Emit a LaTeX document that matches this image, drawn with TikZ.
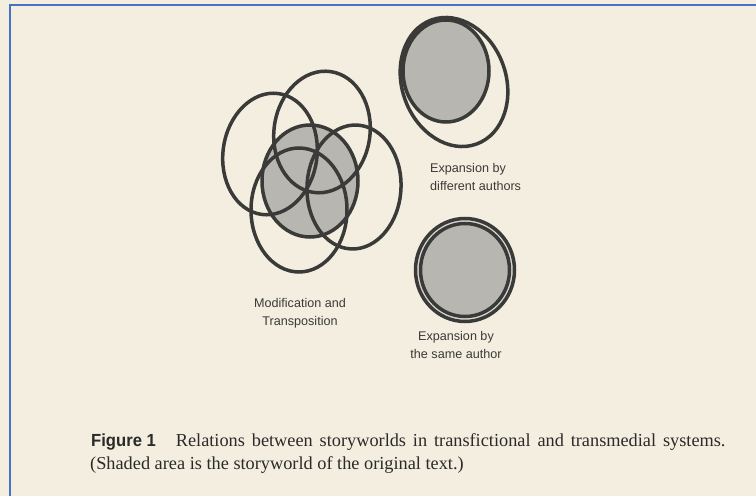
\documentclass[tikz,border=0pt]{standalone}
\usepackage{fontspec}
\setmainfont{Liberation Serif}
\newfontfamily\capwide[WordSpace=1.5]{Liberation Serif}
\newfontfamily\labfont{Liberation Sans}
\newfontfamily\figfont[FakeStretch=0.95]{Liberation Sans}
\definecolor{paper}{HTML}{F3EEE0}
\definecolor{frameblue}{HTML}{4472C4}
\definecolor{ink}{HTML}{3A3A38}
\definecolor{shade}{HTML}{B7B6B1}
\definecolor{gap}{HTML}{D9D7D0}
\definecolor{captink}{HTML}{2A2A28}
\tikzset{
  ring/.style={draw=ink, line width=3.5pt},
  world/.style={draw=ink, line width=3.5pt, fill=shade},
  lab/.style={font=\labfont\fontsize{12.6}{17.5}\selectfont, text=ink, inner sep=0pt},
  capt/.style={font=\fontsize{18.3}{24}\selectfont, text=captink, anchor=base west, inner sep=0pt}
}
\begin{document}
\begin{tikzpicture}[x=1pt,y=1pt]
\useasboundingbox (0,0) rectangle (756,496);
\fill[paper] (0,0) rectangle (756,496);
\draw[frameblue, line width=2.6pt] (10,0) -- (10,491) -- (756,491);

% Modification and Transposition
\draw[world] (310,315) ellipse [x radius=48, y radius=56];
\draw[ring, rotate around={-8:(270,342)}] (270,342) ellipse [x radius=47, y radius=61];
\draw[ring, rotate around={-8:(322,364)}] (322,364) ellipse [x radius=48, y radius=61];
\draw[ring, rotate around={-3:(354,309)}] (354,309) ellipse [x radius=47, y radius=62];
\draw[ring] (299,286) ellipse [x radius=48, y radius=62];
\node[lab, align=center] (modlab) at (300,183) {Modification and\\Transposition};

% Expansion by different authors
\draw[world] (446,425) ellipse [x radius=43, y radius=51];
\draw[ring, rotate around={20:(454,414)}] (454,414) ellipse [x radius=52, y radius=66];
\node[lab, align=left, anchor=west] (difflab) at (430,319) {Expansion by\\different authors};

% Expansion by the same author
\draw[ring, fill=gap] (465,226) ellipse [x radius=49.5, y radius=51.5];
\draw[world] (465,226) ellipse [x radius=44.5, y radius=46.5];
\node[lab, align=center] (samelab) at (456,151) {Expansion by\\the same author};

% Caption
\node[capt] (cap1) at (91,49) {{\figfont\fontsize{17.5}{24}\selectfont\bfseries Figure 1}\hspace{20pt}{\capwide Relations between storyworlds in transfictional and transmedial systems.}};
\node[capt] (cap2) at (90,27) {(Shaded area is the storyworld of the original text.)};
\end{tikzpicture}
\end{document}
